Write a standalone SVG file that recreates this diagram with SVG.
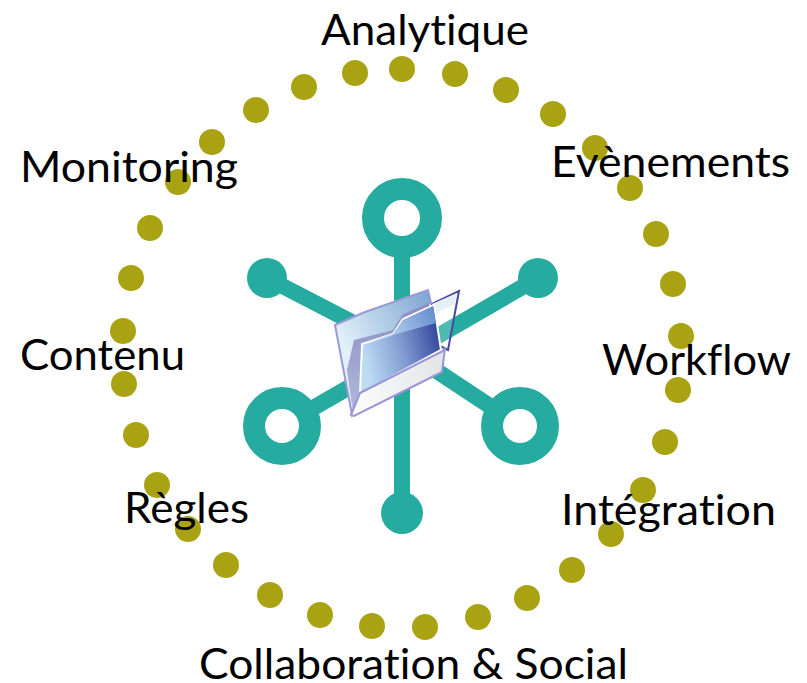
<svg xmlns="http://www.w3.org/2000/svg" width="807" height="683" viewBox="0 0 807 683">
<style>
.d{fill:#a9a314}
.t{font-family:"Lato","Carlito","Open Sans",sans-serif;font-size:42px;fill:#000;font-variant-ligatures:none}
.l{stroke:#26aba1;stroke-width:16;fill:none}
.r{stroke:#26aba1;stroke-width:22;fill:#fff}
.s{fill:#26aba1}
</style>
<defs>
<linearGradient id="g1" gradientUnits="userSpaceOnUse" x1="362" y1="350" x2="440" y2="330"><stop offset="0" stop-color="#bcdcf4"/><stop offset="0.5" stop-color="#7f9ad0"/><stop offset="1" stop-color="#2f4399"/></linearGradient>
<linearGradient id="g4" gradientUnits="userSpaceOnUse" x1="395" y1="330" x2="437" y2="305"><stop offset="0" stop-color="#a9c6ea"/><stop offset="1" stop-color="#5f88cb"/></linearGradient>
<linearGradient id="g2" gradientUnits="userSpaceOnUse" x1="340" y1="340" x2="428" y2="295"><stop offset="0" stop-color="#e2f0fa"/><stop offset="1" stop-color="#7fa8d2"/></linearGradient>
<linearGradient id="g3" x1="0" y1="0" x2="1" y2="0"><stop offset="0" stop-color="#fdfdfd"/><stop offset="1" stop-color="#e2e4e6"/></linearGradient>
<linearGradient id="g5" x1="0" y1="0" x2="0" y2="1"><stop offset="0" stop-color="#8a8fc2"/><stop offset="1" stop-color="#b4b9dc"/></linearGradient>
</defs>
<g id="ring-dots">
<circle class="d" cx="402" cy="69" r="13"/><circle class="d" cx="455" cy="74" r="13"/><circle class="d" cx="506" cy="90" r="13"/><circle class="d" cx="553" cy="114" r="13"/><circle class="d" cx="595" cy="148" r="13"/><circle class="d" cx="630" cy="188" r="13"/><circle class="d" cx="656" cy="234" r="13"/><circle class="d" cx="673" cy="284" r="13"/><circle class="d" cx="681" cy="336" r="13"/><circle class="d" cx="678" cy="390" r="13"/><circle class="d" cx="665" cy="442" r="13"/><circle class="d" cx="643" cy="490" r="13"/><circle class="d" cx="611" cy="534" r="13"/><circle class="d" cx="572" cy="570" r="13"/><circle class="d" cx="527" cy="598" r="13"/><circle class="d" cx="478" cy="617" r="13"/><circle class="d" cx="425" cy="627" r="13"/><circle class="d" cx="372" cy="626" r="13"/><circle class="d" cx="320" cy="615" r="13"/><circle class="d" cx="270" cy="595" r="13"/><circle class="d" cx="226" cy="565" r="13"/><circle class="d" cx="188" cy="529" r="13"/><circle class="d" cx="157" cy="485" r="13"/><circle class="d" cx="136" cy="435" r="13"/><circle class="d" cx="124" cy="384" r="13"/><circle class="d" cx="123" cy="331" r="13"/><circle class="d" cx="131" cy="278" r="13"/><circle class="d" cx="150" cy="228" r="13"/><circle class="d" cx="178" cy="182" r="13"/><circle class="d" cx="212" cy="142" r="13"/><circle class="d" cx="256" cy="110" r="13"/><circle class="d" cx="304" cy="87" r="13"/><circle class="d" cx="355" cy="73" r="13"/>
</g>
<g id="connectors">
<path class="l" d="M402 240V513M267 278L402 348M538 278L282 426M402 348L520 426"/>
</g>
<g id="hub-top"><circle class="r" cx="402" cy="218" r="29"/></g>
<g id="hub-left"><circle class="s" cx="267" cy="278" r="20"/></g>
<g id="hub-right"><circle class="s" cx="538" cy="278" r="20"/></g>
<g id="hub-bottom-left"><circle class="r" cx="282" cy="426" r="28"/></g>
<g id="hub-bottom-right"><circle class="r" cx="520" cy="426" r="28"/></g>
<g id="hub-bottom"><circle class="s" cx="402" cy="513" r="21"/></g>
<g id="folder">
<path d="M432 304L459 291L448 350L438 345Z" fill="#f4f9fc" fill-opacity="0.2" stroke="#4a46a4" stroke-width="2"/>
<path d="M432 304L457 293L454 305L434 313Z" fill="#e4f0f6"/>
<path d="M335 325L365 312L428 290L431 303L403 315L393 332L360 343L362 395L352 415Z" fill="url(#g2)" stroke="#9a9ad6" stroke-width="2"/>
<path d="M354 340L393 330L403 315L429 303L430 310L405 322L397 336L362 348L360 395L353 413L347 370Z" fill="url(#g5)"/>
<path d="M362 344L393 334L403 319L434 305L441 350L360 394Z" fill="url(#g1)" stroke="#fff" stroke-width="2"/>
<path d="M364 343L393 334L403 320L433 306L436 323Z" fill="url(#g4)"/>
<path d="M360 393L443 351L445 348L442 372L354 416L351 415Z" fill="url(#g3)" stroke="#9a94d8" stroke-width="2"/>
</g>
<g id="labels">
<text class="t" x="321" y="45" textLength="208" lengthAdjust="spacingAndGlyphs">Analytique</text>
<text class="t" x="551" y="177" textLength="239" lengthAdjust="spacingAndGlyphs">Evènements</text>
<text class="t" x="20" y="182" textLength="218" lengthAdjust="spacingAndGlyphs">Monitoring</text>
<text class="t" x="20" y="370" textLength="165" lengthAdjust="spacingAndGlyphs">Contenu</text>
<text class="t" x="602" y="375" textLength="189" lengthAdjust="spacingAndGlyphs">Workflow</text>
<text class="t" x="124" y="523" textLength="125" lengthAdjust="spacingAndGlyphs">Règles</text>
<text class="t" x="561" y="525" textLength="215" lengthAdjust="spacingAndGlyphs">Intégration</text>
<text class="t" x="199" y="679" textLength="429" lengthAdjust="spacingAndGlyphs">Collaboration &amp; Social</text>
</g>
</svg>
